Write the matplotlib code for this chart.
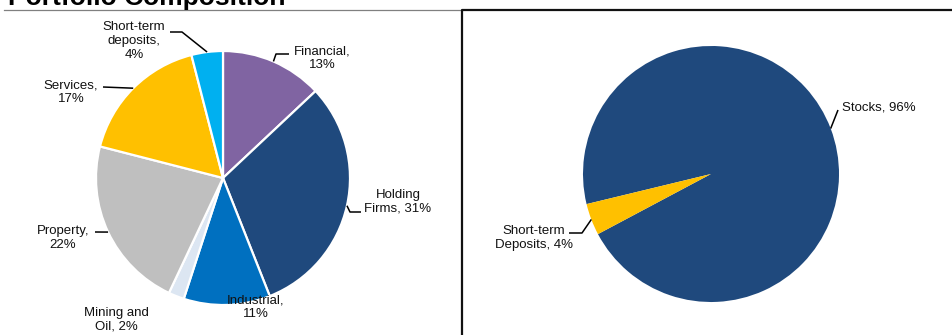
import numpy as np
import matplotlib
matplotlib.use("Agg")
import matplotlib.pyplot as plt

plt.rcParams["font.family"] = ["Liberation Sans", "DejaVu Sans"]

# Sector split of the portfolio (left pie), clockwise from 12 o'clock
sectors = ["Financial", "Holding\nFirms", "Industrial", "Mining and\nOil",
           "Property", "Services", "Short-term\ndeposits"]
sector_pct = [13, 31, 11, 2, 22, 17, 4]
sector_wrap = [True, False, True, False, True, True, True]
sector_colors = ["#8064A2", "#1F497D", "#0070C0", "#DCE6F2",
                 "#BFBFBF", "#FFC000", "#00B0F0"]

# Asset split (right pie)
assets = ["Stocks", "Short-term\nDeposits"]
asset_pct = [96, 4]
asset_wrap = [False, False]
asset_colors = ["#1F497D", "#FFC000"]

title = "Portfolio Composition"


def make_label(name, pct, wrap):
    return name + (",\n" if wrap else ", ") + f"{pct}%"


W, H = 953, 335
fig = plt.figure(figsize=(W / 100, H / 100), dpi=100)
ax = fig.add_axes([0, 0, 1, 1])

# left pie
c1, r1 = (223, 178), 127
w1, _ = ax.pie(sector_pct, colors=sector_colors, center=c1, radius=r1,
               startangle=-90, counterclock=True,
               wedgeprops=dict(edgecolor="white", linewidth=1.6))

# right pie
c2, r2 = (711, 174), 128
w2, _ = ax.pie(asset_pct, colors=asset_colors, center=c2, radius=r2,
               startangle=-193.6, counterclock=True,
               wedgeprops=dict(linewidth=0))

ax.set_xlim(0, W)
ax.set_ylim(H, 0)
ax.set_aspect("equal")
ax.axis("off")


def edge_point(w, c, r):
    mid = np.deg2rad((w.theta1 + w.theta2) / 2)
    return c[0] + r * np.cos(mid), c[1] + r * np.sin(mid)


# label text position and leader path (elbow points after the wedge edge)
left_layout = [
    ((322, 58), [(276, 54), (289, 54)]),
    ((398, 202), [(350, 212), (361, 212)]),
    ((256, 307), None),
    ((116, 320), None),
    ((63, 238), [(95, 232)]),
    ((71, 92), [(103, 87)]),
    ((134, 41), [(182, 32), (170, 32)]),
]
right_layout = [
    ((879, 107), [(838, 110)]),
    ((534, 238), [(582, 233), (569, 233)]),
]

for wedges, c, r, names, pcts, wraps, layout in [
    (w1, c1, r1, sectors, sector_pct, sector_wrap, left_layout),
    (w2, c2, r2, assets, asset_pct, asset_wrap, right_layout),
]:
    for w, name, pct, wrap, (pos, path) in zip(wedges, names, pcts, wraps, layout):
        ax.text(pos[0], pos[1], make_label(name, pct, wrap), ha="center",
                va="center", fontsize=9.5, color="#111111", linespacing=1.2)
        if path:
            pts = [edge_point(w, c, r)] + path
            xs, ys = zip(*pts)
            ax.plot(xs, ys, color="black", lw=1.1, solid_capstyle="butt")

# header rule and right-hand frame
ax.plot([4, 462], [9.5, 9.5], color="#808080", lw=0.9)
ax.plot([462, 462, W], [H, 10, 10], color="#111111", lw=1.6)

# heading sits mostly above the top edge
ax.text(8, 4.5, title, fontsize=19, fontweight="bold", va="baseline",
        ha="left", color="black")

fig.savefig("out.png", dpi=100)
